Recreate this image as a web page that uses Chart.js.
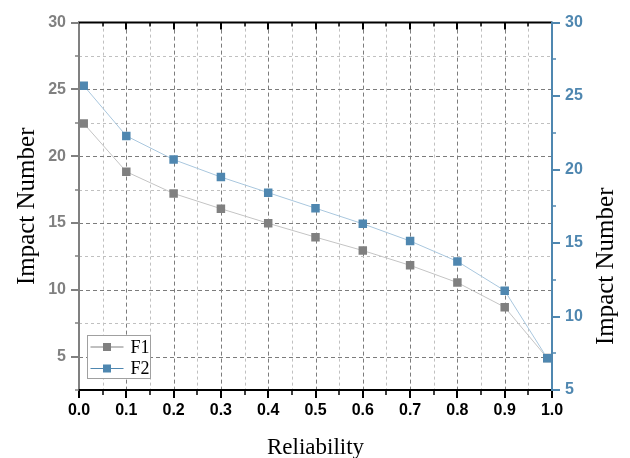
<!DOCTYPE html>
<html>
<head>
<meta charset="utf-8">
<script src="https://cdn.jsdelivr.net/npm/chart.js@4.4.1/dist/chart.umd.min.js"></script>
<style>
  html, body { margin: 0; padding: 0; background: #ffffff; }
  #wrap { width: 630px; height: 458px; position: relative; }
</style>
</head>
<body>
<div id="wrap"><canvas id="chart" width="630" height="458"></canvas></div>
<script>
// Reliability levels on the x axis
const reliability = [0.01, 0.1, 0.2, 0.3, 0.4, 0.5, 0.6, 0.7, 0.8, 0.9, 0.99];
// F1 impact numbers (left axis)
const f1Values = [22.45, 18.84, 17.21, 16.07, 14.98, 13.94, 12.94, 11.83, 10.54, 8.70, 4.89];
// F2 impact numbers (right axis)
const f2Values = [25.71, 22.29, 20.68, 19.49, 18.43, 17.37, 16.31, 15.14, 13.75, 11.76, 7.16];
const seriesNames = ['F1', 'F2'];
// Axis ranges
const xRange = [0, 1];
const leftRange = [2.5, 30];
const rightRange = [5, 30];
const xTitle = 'Reliability';
const yTitle = 'Impact Number';

const GRAY = '#808080';
const BLUE = '#4f87b0';
const TICK_FONT = { family: '"Liberation Sans", Arial, sans-serif', size: 16, weight: 'bold' };
const SERIF = '"Liberation Serif", "Times New Roman", serif';

const isMultiple = (v, step) => Math.abs(v / step - Math.round(v / step)) < 1e-6;
const toPoints = (xs, ys) => xs.map((x, i) => ({ x, y: ys[i] }));

// Dashed grid (major / minor) drawn from the scales' own ticks
const gridPlugin = {
  id: 'gridPlugin',
  beforeDatasetsDraw(chart) {
    const { ctx, chartArea: a, scales } = chart;
    const x = scales.x, y = scales.y;
    ctx.save();
    ctx.lineWidth = 1;
    x.ticks.forEach(t => {
      if (t.value <= x.min + 1e-9 || t.value >= x.max - 1e-9) return;
      const major = isMultiple(t.value, 0.1);
      const px = Math.round(x.getPixelForValue(t.value)) + 0.5;
      ctx.strokeStyle = major ? '#7c7c7c' : '#c0c0c0';
      ctx.setLineDash(major ? [4, 3] : [3, 3]);
      ctx.beginPath(); ctx.moveTo(px, a.top); ctx.lineTo(px, a.bottom); ctx.stroke();
    });
    y.ticks.forEach(t => {
      if (t.value <= y.min + 1e-9 || t.value >= y.max - 1e-9) return;
      const major = isMultiple(t.value, 5);
      const py = Math.round(y.getPixelForValue(t.value)) + 0.5;
      ctx.strokeStyle = major ? '#7c7c7c' : '#c0c0c0';
      ctx.setLineDash(major ? [4, 3] : [3, 3]);
      ctx.beginPath(); ctx.moveTo(a.left, py); ctx.lineTo(a.right, py); ctx.stroke();
    });
    ctx.restore();
  }
};

// Axis lines, tick marks, right-hand title and the boxed legend
const framePlugin = {
  id: 'framePlugin',
  afterDatasetsDraw(chart) {
    const { ctx, chartArea: a, scales } = chart;
    const x = scales.x, y = scales.y, y2 = scales.y2;
    ctx.save();
    ctx.setLineDash([]);

    // top and bottom axes (black)
    ctx.strokeStyle = '#000000';
    ctx.lineWidth = 2;
    ctx.beginPath();
    ctx.moveTo(a.left - 1, a.top); ctx.lineTo(a.right, a.top);
    ctx.moveTo(a.left - 1, a.bottom); ctx.lineTo(a.right + 1, a.bottom);
    ctx.stroke();
    x.ticks.forEach(t => {
      const major = isMultiple(t.value, 0.1);
      const px = Math.round(x.getPixelForValue(t.value));
      ctx.lineWidth = major ? 2 : 1.5;
      ctx.beginPath();
      ctx.moveTo(px, a.bottom); ctx.lineTo(px, a.bottom + (major ? 8 : 5));
      ctx.moveTo(px, a.top); ctx.lineTo(px, a.top + (major ? 7 : 4));
      ctx.stroke();
    });

    // left axis (gray)
    ctx.strokeStyle = GRAY;
    ctx.lineWidth = 2;
    ctx.beginPath(); ctx.moveTo(a.left, a.top + 1); ctx.lineTo(a.left, a.bottom - 1); ctx.stroke();
    y.ticks.forEach(t => {
      const major = isMultiple(t.value, 5);
      const py = Math.round(y.getPixelForValue(t.value));
      ctx.lineWidth = major ? 2 : 1.5;
      ctx.beginPath(); ctx.moveTo(a.left, py); ctx.lineTo(a.left - (major ? 8 : 4), py); ctx.stroke();
    });

    // right axis (blue)
    ctx.strokeStyle = BLUE;
    ctx.lineWidth = 2;
    ctx.beginPath(); ctx.moveTo(a.right, a.top - 1); ctx.lineTo(a.right, a.bottom + 1); ctx.stroke();
    y2.ticks.forEach(t => {
      const major = isMultiple(t.value, 5);
      const py = Math.round(y2.getPixelForValue(t.value));
      ctx.lineWidth = major ? 2 : 1.5;
      ctx.beginPath(); ctx.moveTo(a.right, py); ctx.lineTo(a.right + (major ? 8 : 4), py); ctx.stroke();
    });

    // right axis title, reading bottom to top like the left one
    ctx.fillStyle = '#000000';
    ctx.font = '25px ' + SERIF;
    ctx.textAlign = 'center';
    ctx.textBaseline = 'alphabetic';
    ctx.translate(a.right + 61, (a.top + a.bottom) / 2 + 60);
    ctx.rotate(-Math.PI / 2);
    ctx.fillText(yTitle, 0, 0);
    ctx.restore();

    // legend box in the lower-left corner of the plot
    ctx.save();
    const bx = a.left + 8.5, by = a.bottom - 54.5, bw = 63, bh = 43;
    ctx.fillStyle = '#ffffff';
    ctx.fillRect(bx, by, bw, bh);
    ctx.strokeStyle = '#a0a0a0';
    ctx.lineWidth = 1;
    ctx.strokeRect(bx, by, bw, bh);
    chart.data.datasets.slice().sort((p, q) => seriesNames.indexOf(p.label) - seriesNames.indexOf(q.label))
      .forEach((ds, i) => {
        const cy = by + 11.5 + i * 21.5;
        ctx.strokeStyle = ds.pointBackgroundColor;
        ctx.lineWidth = 1;
        ctx.beginPath(); ctx.moveTo(bx + 3, cy); ctx.lineTo(bx + 36, cy); ctx.stroke();
        ctx.fillStyle = ds.pointBackgroundColor;
        ctx.fillRect(bx + 15.5, cy - 4, 8, 8);
        ctx.fillStyle = '#000000';
        ctx.font = '18px ' + SERIF;
        ctx.textAlign = 'left';
        ctx.textBaseline = 'middle';
        ctx.fillText(ds.label, bx + 43, cy + 1);
      });
    ctx.restore();
  }
};

new Chart(document.getElementById('chart'), {
  type: 'line',
  data: {
    datasets: [
      {
        label: seriesNames[1],
        data: toPoints(reliability, f2Values),
        yAxisID: 'y2',
        borderColor: '#a9c7de',
        borderWidth: 1,
        pointStyle: 'rect',
        pointRadius: 6,
        pointBorderWidth: 0,
        pointBackgroundColor: BLUE,
        pointBorderColor: BLUE,
        order: 0
      },
      {
        label: seriesNames[0],
        data: toPoints(reliability, f1Values),
        yAxisID: 'y',
        borderColor: '#c4c4c4',
        borderWidth: 1,
        pointStyle: 'rect',
        pointRadius: 6,
        pointBorderWidth: 0,
        pointBackgroundColor: GRAY,
        pointBorderColor: GRAY,
        order: 1
      }
    ]
  },
  options: {
    responsive: false,
    animation: false,
    devicePixelRatio: 1,
    layout: { padding: { top: 12, left: 0, right: 0, bottom: 0 } },
    plugins: { legend: { display: false }, tooltip: { enabled: false } },
    scales: {
      x: {
        type: 'linear',
        position: 'bottom',
        min: xRange[0], max: xRange[1],
        grid: { display: false, drawTicks: false, tickLength: 0 },
        border: { display: false },
        ticks: {
          stepSize: 0.05, maxTicksLimit: 100, autoSkip: false, maxRotation: 0,
          padding: 11, color: '#000000', font: TICK_FONT,
          callback: v => isMultiple(v, 0.1) ? v.toFixed(1) : ''
        },
        title: { display: true, text: xTitle, color: '#000000', font: { family: SERIF, size: 23 }, padding: { top: 0, bottom: -4 } },
        afterFit: s => { s.height = 68; }
      },
      y: {
        type: 'linear',
        position: 'left',
        min: leftRange[0], max: leftRange[1],
        grid: { display: false, drawTicks: false, tickLength: 0 },
        border: { display: false },
        ticks: {
          stepSize: 2.5, maxTicksLimit: 100, autoSkip: false,
          padding: 13, color: GRAY, font: TICK_FONT,
          callback: v => isMultiple(v, 5) ? String(v) : ''
        },
        title: { display: true, text: yTitle, color: '#000000', font: { family: SERIF, size: 25 }, padding: { top: 12, bottom: 0 } },
        afterFit: s => { s.width = 79; }
      },
      y2: {
        type: 'linear',
        position: 'right',
        min: rightRange[0], max: rightRange[1],
        grid: { display: false, drawTicks: false, tickLength: 0 },
        border: { display: false },
        ticks: {
          stepSize: 2.5, maxTicksLimit: 100, autoSkip: false,
          padding: 13, color: BLUE, font: TICK_FONT,
          callback: v => isMultiple(v, 5) ? String(v) : ''
        },
        afterFit: s => { s.width = 78; }
      }
    }
  },
  plugins: [gridPlugin, framePlugin]
});
</script>
</body>
</html>
